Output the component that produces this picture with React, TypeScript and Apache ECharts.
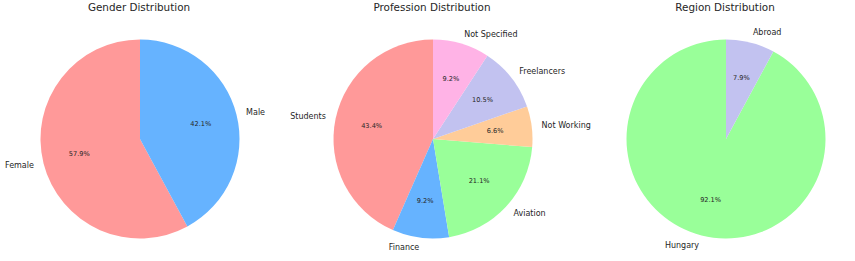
import React, { useEffect, useRef } from "react";
import * as echarts from "echarts";

const titles = ["Gender Distribution", "Profession Distribution", "Region Distribution"];

const genderLabels = ["Female", "Male"];
const genderValues = [57.9, 42.1];
const genderColors = ["#ff9999", "#66b3ff"];

const professionLabels = ["Students", "Finance", "Aviation", "Not Working", "Freelancers", "Not Specified"];
const professionValues = [43.4, 9.2, 21.1, 6.6, 10.5, 9.2];
const professionColors = ["#ff9999", "#66b3ff", "#99ff99", "#ffcc99", "#c2c2f0", "#ffb3e6"];

const regionLabels = ["Hungary", "Abroad"];
const regionValues = [92.1, 7.9];
const regionColors = ["#99ff99", "#c2c2f0"];

const FONT = "DejaVu Sans";
const TEXT = "#262626";
const R = 99.5;
const CY = 139;
const centersX = [140, 433, 726];

function build(labels: string[], values: number[], colors: string[], cx: number) {
  const data = labels.map((n, i) => ({ name: n, value: values[i], itemStyle: { color: colors[i] } }));
  const main = {
    type: "pie",
    center: [cx, CY],
    radius: [0, R],
    startAngle: 90,
    clockwise: false,
    avoidLabelOverlap: false,
    silent: true,
    data,
    label: {
      show: true,
      position: "outside",
      alignTo: "none",
      distanceToLabelLine: 0,
      formatter: "{b}",
      fontFamily: FONT,
      fontSize: 8,
      color: TEXT,
    },
    labelLine: { show: false, length: R * 0.1, length2: 0 },
    emphasis: { disabled: true },
  };
  const overlay = {
    type: "pie",
    center: [cx, CY],
    radius: [R * 0.2, R],
    startAngle: 90,
    clockwise: false,
    avoidLabelOverlap: false,
    silent: true,
    z: 5,
    data: labels.map((n, i) => ({ name: n, value: values[i], itemStyle: { color: "rgba(0,0,0,0)" } })),
    label: {
      show: true,
      position: "inside",
      formatter: (p: any) => Number(p.value).toFixed(1) + "%",
      fontFamily: FONT,
      fontSize: 6.6,
      color: TEXT,
    },
    labelLine: { show: false },
    emphasis: { disabled: true },
  };
  return [main, overlay];
}

export default function App() {
  const ref = useRef<HTMLDivElement>(null);
  useEffect(() => {
    if (!ref.current) return;
    const chart = echarts.init(ref.current, undefined, { renderer: "svg" });
    const series = [
      ...build(genderLabels, genderValues, genderColors, centersX[0]),
      ...build(professionLabels, professionValues, professionColors, centersX[1]),
      ...build(regionLabels, regionValues, regionColors, centersX[2]),
    ];
    chart.setOption({
      animation: false,
      backgroundColor: "#ffffff",
      graphic: titles.map((t, i) => ({
        type: "text",
        x: centersX[i] - 1,
        y: 7,
        style: {
          text: t,
          fontFamily: FONT,
          fontSize: 10.4,
          fill: TEXT,
          textAlign: "center",
          textVerticalAlign: "middle",
        },
      })),
      series,
    });
    return () => chart.dispose();
  }, []);
  return (
    <div
      ref={ref}
      style={{ position: "fixed", left: 0, top: 0, width: 855, height: 261 }}
    />
  );
}
